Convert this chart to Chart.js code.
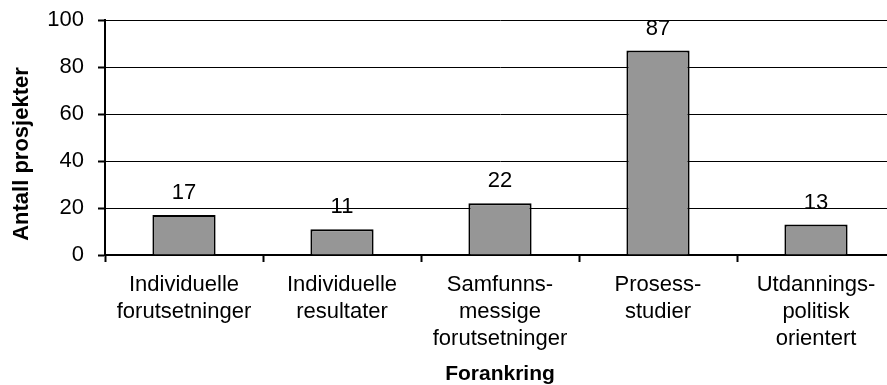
<!DOCTYPE html>
<html>
<head>
<meta charset="utf-8">
<script src="https://cdn.jsdelivr.net/npm/chart.js@4/dist/chart.umd.min.js"></script>
<style>
  html, body { margin: 0; padding: 0; background: #fff; overflow: hidden; }
  #wrap { width: 887px; height: 385px; overflow: hidden; }
</style>
</head>
<body>
<div id="wrap"><canvas id="chart" width="900" height="385"></canvas></div>
<script>
const categories = [
  ["Individuelle", "forutsetninger"],
  ["Individuelle", "resultater"],
  ["Samfunns-", "messige", "forutsetninger"],
  ["Prosess-", "studier"],
  ["Utdannings-", "politisk", "orientert"]
];
const projectCounts = [17, 11, 22, 87, 13];
const yTicks = [0, 20, 40, 60, 80, 100];
const yTitle = "Antall prosjekter";

const FONT = "'Liberation Sans', Arial, sans-serif";

// value labels above each bar + y axis title (placed like the original, a bit low)
const valueLabels = {
  id: "valueLabels",
  afterDatasetsDraw(chart) {
    const ctx = chart.ctx;
    const meta = chart.getDatasetMeta(0);
    ctx.save();
    ctx.font = "22px " + FONT;
    ctx.fillStyle = "#000";
    ctx.textAlign = "center";
    ctx.textBaseline = "middle";
    meta.data.forEach((bar, i) => {
      ctx.fillText(String(projectCounts[i]), bar.x, bar.y - 22);
    });
    ctx.restore();

    ctx.save();
    ctx.translate(22, 154);
    ctx.rotate(-Math.PI / 2);
    ctx.font = "bold 22px " + FONT;
    ctx.fillStyle = "#000";
    ctx.textAlign = "center";
    ctx.textBaseline = "middle";
    ctx.fillText(yTitle, 0, 0);
    ctx.restore();
  }
};

new Chart(document.getElementById("chart"), {
  type: "bar",
  data: {
    labels: categories,
    datasets: [{
      data: projectCounts,
      backgroundColor: "#969696",
      borderColor: "#000",
      borderWidth: 2,
      barPercentage: 0.4,
      categoryPercentage: 1
    }]
  },
  plugins: [valueLabels],
  options: {
    responsive: false,
    animation: false,
    layout: { padding: { top: 20, right: 5, left: 0, bottom: 0 } },
    plugins: {
      legend: { display: false },
      tooltip: { enabled: false }
    },
    scales: {
      x: {
        afterFit(scale) { scale.height = 130; },
        offset: true,
        grid: {
          offset: true,
          drawOnChartArea: false,
          drawTicks: true,
          tickLength: 7,
          tickWidth: 2,
          tickColor: "#000"
        },
        border: { color: "#000", width: 2 },
        ticks: {
          color: "#000",
          padding: 10,
          maxRotation: 0,
          autoSkip: false,
          font: { family: FONT, size: 22, lineHeight: 1.22 }
        },
        title: {
          display: true,
          text: "Forankring",
          color: "#000",
          padding: { top: 0, bottom: 0 },
          font: { family: FONT, size: 21, weight: "bold", lineHeight: 1 }
        }
      },
      y: {
        afterFit(scale) {
          scale.width = 105;
          scale.paddingTop = 0;
          scale.paddingBottom = 0;
        },
        min: 0,
        max: 100,
        afterBuildTicks(scale) {
          scale.ticks = yTicks.map(v => ({ value: v }));
        },
        grid: {
          color: "#000",
          lineWidth: 1,
          drawTicks: true,
          tickLength: 7,
          tickColor: "#000",
          tickWidth: 2
        },
        border: { color: "#000", width: 2 },
        ticks: {
          color: "#000",
          padding: 14,
          font: { family: FONT, size: 22 }
        }
      }
    }
  }
});
</script>
</body>
</html>
